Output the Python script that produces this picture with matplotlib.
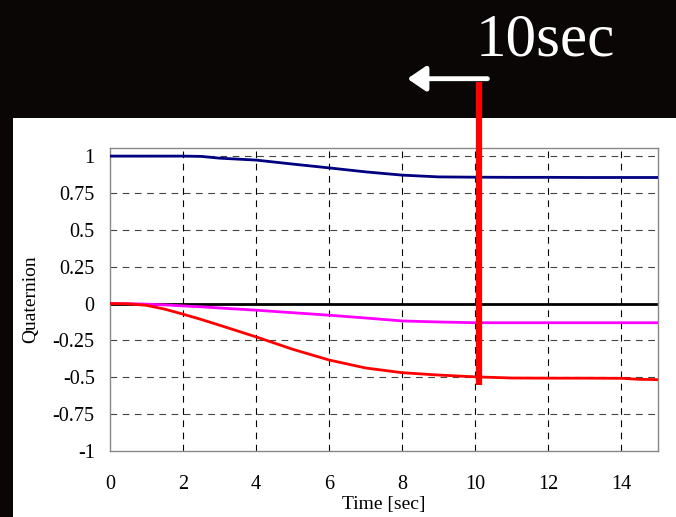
import numpy as np
import matplotlib.pyplot as plt

# Datos
t = [0, 0.5, 1, 1.5, 2, 2.5, 3, 4, 5, 6, 7, 8, 9, 10, 11, 12, 13, 14, 14.5, 15]
q0 = [1.0, 1.0, 1.0, 1.0, 1.0, 0.998, 0.986, 0.973, 0.946, 0.92, 0.893, 0.871, 0.859, 0.857, 0.856, 0.856, 0.855, 0.855, 0.855, 0.855]
q1 = [0.0, -0.001, -0.004, -0.009, -0.016, -0.022, -0.03, -0.045, -0.062, -0.079, -0.098, -0.118, -0.125, -0.13, -0.13, -0.13, -0.13, -0.13, -0.13, -0.13]
q2 = [0.0, -0.002, -0.012, -0.038, -0.072, -0.108, -0.147, -0.226, -0.31, -0.383, -0.437, -0.469, -0.485, -0.497, -0.505, -0.506, -0.506, -0.507, -0.514, -0.516]
q3 = [0.0] * len(t)

x_ticks = [0, 2, 4, 6, 8, 10, 12, 14]
y_ticks = [1, 0.75, 0.5, 0.25, 0, -0.25, -0.5, -0.75, -1]
y_labels = ['1', '0.75', '0.5', '0.25', '0', '-0.25', '-0.5', '-0.75', '-1']
t_mark = 10.1

plt.rcParams['font.family'] = ['Liberation Serif', 'DejaVu Serif']

W, H = 676, 517
fig = plt.figure(figsize=(W / 100, H / 100), dpi=100, facecolor='#0a0606')

# Panel blanco
panel = plt.Rectangle((13 / W, 0), 1, (H - 118) / H, transform=fig.transFigure,
                      facecolor='white', edgecolor='none', zorder=-5)
fig.add_artist(panel)

ax = fig.add_axes([110 / W, (H - 451) / H, 548 / W, 303 / H])
ax.set_zorder(1)
ax.set_facecolor('white')
ax.set_xlim(0, 15)
ax.set_ylim(-1, 1.055)

for g in x_ticks[1:]:
    ax.axvline(g, color='black', linestyle=(0, (6, 5)), linewidth=0.8, zorder=1)
for g in [1, 0.75, 0.5, 0.25, -0.25, -0.5, -0.75]:
    ax.axhline(g, color='#444444', linestyle=(0, (6, 5)), linewidth=0.8, zorder=1)

ax.plot(t, q3, color='black', linewidth=2, zorder=2)
ax.plot(t, q1, color='#ff00ff', linewidth=2, zorder=3)
ax.plot(t, q2, color='#ff0000', linewidth=2, zorder=3)
ax.plot(t, q0, color='#000080', linewidth=2, zorder=3)

ax.set_xticks(x_ticks)
ax.set_yticks(y_ticks)
ax.set_yticklabels(y_labels)
ax.tick_params(length=0, labelsize=14.5, colors='black')
ax.tick_params(axis='x', pad=17)
ax.tick_params(axis='y', pad=11)
for s in ax.spines.values():
    s.set_color('#888888')
    s.set_linewidth(1)

ax.set_xlabel('Time [sec]', fontsize=14, labelpad=2)
ax.set_ylabel('Quaternion', fontsize=14, labelpad=10)

# Marca de 10 s
ax.plot([t_mark, t_mark], [-0.55, 1.505], color='#ff0000', linewidth=4.5,
        clip_on=False, zorder=5, solid_capstyle='butt')
ax.annotate('', xy=(8.14, 1.525), xytext=(10.33, 1.525), xycoords='data',
            annotation_clip=False,
            arrowprops=dict(arrowstyle='-|>,head_length=1.1,head_width=0.75',
                            color='white', lw=3.5, shrinkA=0, shrinkB=0))
fig.text(545 / W, 1 - 55 / H, '10sec', color='white', fontsize=44,
         ha='center', va='baseline')

fig.savefig('out.png', dpi=100, facecolor=fig.get_facecolor())
